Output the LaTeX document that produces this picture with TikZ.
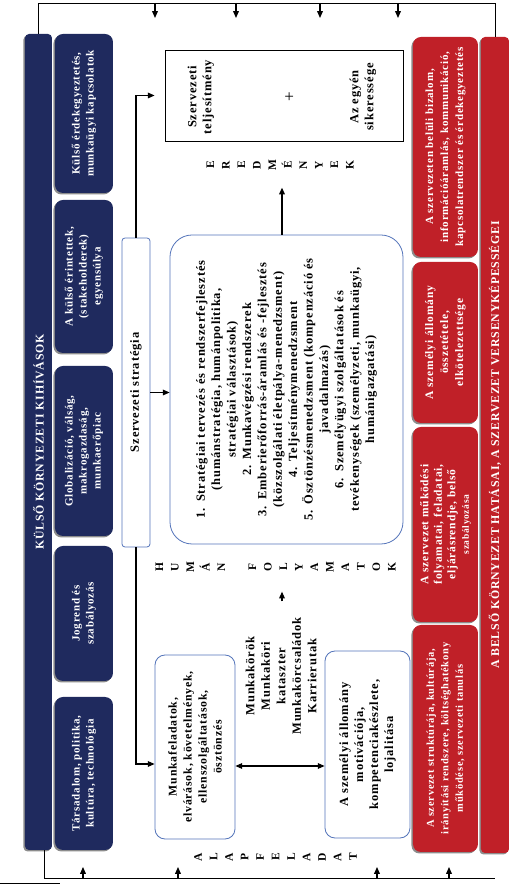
\documentclass[tikz,border=0pt]{standalone}
\usepackage{fontspec}
\setmainfont{Liberation Serif}[LetterSpace=7]
\usetikzlibrary{arrows.meta, positioning, shadows}
\definecolor{navyblue}{RGB}{31,42,94}
\definecolor{crimson}{RGB}{192,32,40}
\definecolor{lineblue}{RGB}{84,116,186}
\definecolor{shadowgray}{RGB}{140,140,140}
\tikzset{
  block/.style={
    rounded corners=8pt,
    align=center,
    inner sep=2pt,
    font=\bfseries\fontsize{11}{14}\selectfont
  },
  navy/.style={block, fill=navyblue, text=white,
    drop shadow={shadow xshift=-1.5pt, shadow yshift=-1.5pt, fill=shadowgray, opacity=1}},
  redbox/.style={block, fill=crimson, text=white,
    drop shadow={shadow xshift=-1.5pt, shadow yshift=-1.5pt, fill=shadowgray, opacity=1}},
  plain/.style={block, draw=lineblue, line width=0.8pt, fill=white, rounded corners=10pt},
  letters/.style={align=center, inner sep=1pt, font=\bfseries\fontsize{11.5}{15.5}\selectfont},
  frame/.style={line width=0.7pt, draw=black},
  arrow/.style={-{Triangle[length=2.4mm, width=2mm]}, line width=1.1pt},
  dblarrow/.style={{Triangle[length=2.4mm, width=2mm]}-{Triangle[length=2.4mm, width=2mm]}, line width=1.1pt}
}
\begin{document}
\begin{tikzpicture}[x=1pt, y=1pt]
\begin{scope}[rotate=90, transform shape]
  \path[use as bounding box] (0,0) rectangle (886,524);

  % external challenges
  \node[navy, rounded corners=4pt, minimum width=816pt, minimum height=27pt,
    font=\bfseries\fontsize{11.8}{14}\selectfont] (header) at (444,485.5) {KÜLSŐ KÖRNYEZETI KIHÍVÁSOK};
  \node[navy, minimum width=153pt, minimum height=58pt] (tars) at (112.5,440) {Társadalom, politika,\\kultúra, technológia};
  \node[navy, minimum width=135pt, minimum height=58pt] (jog) at (272.5,440) {Jogrend és\\szabályozás};
  \node[navy, minimum width=170pt, minimum height=58pt] (glob) at (435,440) {Globalizáció, válság,\\makrogazdaság,\\munkaerőpiac};
  \node[navy, minimum width=153pt, minimum height=58pt] (erint) at (609.5,440) {A külső érintettek,\\(stakeholderek)\\egyensúlya};
  \node[navy, minimum width=159pt, minimum height=58pt] (erdek) at (772.5,440) {Külső érdekegyeztetés,\\munkaügyi kapcsolatok};

  % strategy and processes
  \node[plain, rounded corners=3pt, minimum width=309pt, minimum height=28pt,
    font=\bfseries\fontsize{12.5}{14}\selectfont] (strat) at (493.5,388) {Szervezeti stratégia};
  \node[plain, rounded corners=22pt, minimum width=309pt, minimum height=233pt,
    font=\bfseries\fontsize{12.5}{15.4}\selectfont] (hr) at (496.5,237.5) {1.\enspace Stratégiai tervezés és rendszerfejlesztés\\
    (humánstratégia, humánpolitika,\\
    stratégiai választások)\\
    2.\enspace Munkavégzési rendszerek\\
    3.\enspace Emberierőforrás-áramlás és -fejlesztés\\
    (közszolgálati életpálya-menedzsment)\\
    4.\enspace Teljesítménymenedzsment\\
    5.\enspace Ösztönzésmenedzsment (kompenzáció és\\
    javadalmazás)\\
    6.\enspace Személyügyi szolgáltatások és\\
    tevékenységek (személyzeti, munkaügyi,\\
    humánigazgatási)};
  \node[draw, line width=0.8pt, minimum width=91pt, minimum height=238pt] (result) at (790.5,240) {};
  \node[block, font=\bfseries\fontsize{12.5}{15}\selectfont] (szteljes) at (789,323) {Szervezeti\\teljesítmény};
  \node[font=\fontsize{17}{17}\selectfont] (plus) at (789,234) {+};
  \node[block, font=\bfseries\fontsize{12.5}{15}\selectfont] (egyen) at (789,161) {Az egyén\\sikeressége};
  \node[letters] (ered) at (721,244) {E\\R\\E\\D\\M\\É\\N\\Y\\E\\K};

  % basic tasks
  \node[plain, minimum width=184pt, minimum height=80pt,
    font=\bfseries\fontsize{11.8}{15}\selectfont] (munka) at (139,329) {Munkafeladatok,\\elvárások, követelmények,\\ellenszolgáltatások,\\ösztönzés};
  \node[plain, minimum width=187pt, minimum height=85pt,
    font=\bfseries\fontsize{12.5}{15}\selectfont] (allomany) at (141.5,156.5) {A személyi állomány\\motivációja,\\kompetenciakészlete,\\lojalitása};
  \node[block, font=\bfseries\fontsize{12.5}{15.5}\selectfont] (munkak) at (210,243) {Munkakörök\\Munkaköri\\kataszter\\Munkakörcsaládok\\Karrierutak};
  \node[letters] (human) at (319,248.5) {H\\U\\M\\Á\\N\\[15.5pt]F\\O\\L\\Y\\A\\M\\A\\T\\O\\K};
  \node[letters] (alap) at (29,248.5) {A\\L\\A\\P\\F\\E\\L\\A\\D\\A\\T};

  % internal environment
  \node[redbox, minimum width=227pt, minimum height=65pt,
    font=\bfseries\fontsize{10.5}{14.5}\selectfont] (struk) at (147.5,78.5) {A szervezet struktúrája, kultúrája,\\irányítási rendszere, költséghatékony\\működése, szervezeti tanulás};
  \node[redbox, minimum width=195pt, minimum height=65pt,
    font=\bfseries\fontsize{11.5}{13.5}\selectfont] (mukod) at (361.5,78.5) {A szervezet működési\\folyamatai, feladatai,\\eljárásrendje, belső\\{\fontsize{9.5}{11}\selectfont szabályozása}};
  \node[redbox, minimum width=161pt, minimum height=65pt,
    font=\bfseries\fontsize{11.5}{15}\selectfont] (ossz) at (543.5,78.5) {A személyi állomány\\összetétele,\\elkötelezettsége};
  \node[redbox, minimum width=220pt, minimum height=65pt,
    font=\bfseries\fontsize{11}{15}\selectfont] (bizalom) at (739,78.5) {A szervezeten belüli bizalom,\\információáramlás, kommunikáció,\\kapcsolatrendszer és érdekegyeztetés};
  \node[redbox, rounded corners=4pt, minimum width=816pt, minimum height=28pt,
    font=\bfseries\fontsize{11.8}{14}\selectfont] (footer) at (441,29) {A BELSŐ KÖRNYEZET HATÁSAI, A SZERVEZET VERSENYKÉPESSÉGEI};

  % connectors
  \draw[arrow] (strat.east) -| ([yshift=10pt]result.north);
  \draw[arrow] (strat.south) -- (strat.south |- hr.north);
  \draw[arrow] (strat.west) -| ([xshift=-17pt]munka.north);
  \draw[dblarrow] ([xshift=-19pt]munka.south) -- ([xshift=-19pt]munka.south |- allomany.north);
  \draw[arrow, line width=1.4pt] ([yshift=4.5pt]hr.east) -- ([yshift=4.5pt]hr.east -| ered.west) [shorten >=16pt];
  \draw[arrow] ([xshift=14pt, yshift=-1pt]munkak.east) -- ([xshift=-18pt, yshift=-1pt]munkak.east -| human.west);

  % outer frame
  \coordinate (ne) at (883,485.5);
  \coordinate (sw) at (8,29);
  \draw[frame] (header.east) -- (ne) |- (footer.east);
  \draw[frame] ([yshift=-5.5pt]header.west) -| (sw);
  \foreach \y [count=\i] in {369,288,204,126} {
    \coordinate (in\i) at (883,\y);
    \draw[arrow] (in\i) -- ++(-15,0);
  }
  \foreach \y [count=\i] in {441,346,147,75} {
    \coordinate (out\i) at (8,\y);
    \draw[arrow] (out\i) -- ++(11,0);
  }
  \draw[line width=0.5pt] (3,524) -- (3,464);
\end{scope}
\end{tikzpicture}
\end{document}
